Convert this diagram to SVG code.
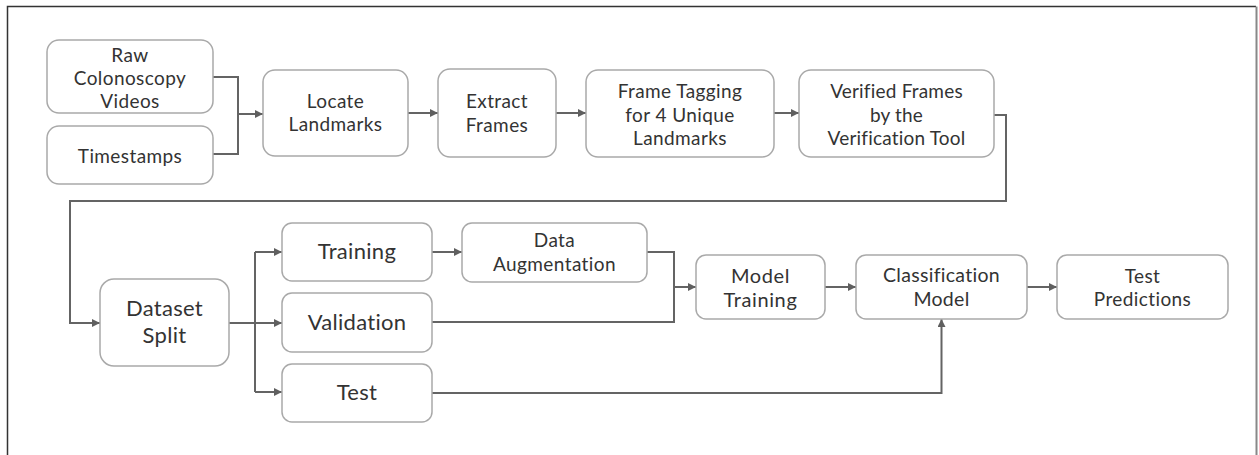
<svg xmlns="http://www.w3.org/2000/svg" width="1259" height="455" viewBox="0 0 1259 455">
  <defs>
    <marker id="arrow" viewBox="0 0 10 10" refX="10" refY="5" markerWidth="10" markerHeight="8" markerUnits="userSpaceOnUse" orient="auto">
      <path d="M0,0 L10,5 L0,10 z" fill="#5f5f5f"/>
    </marker>
  </defs>
  <style>
    .box { fill: #ffffff; stroke: #a9a9a9; stroke-width: 1.5; }
    .t { font-family: Lato, "Liberation Sans", sans-serif; fill: #333333; text-anchor: middle; font-size: 19px; letter-spacing: 0.4px; }
    .vf { letter-spacing: 0.2px; }
    .big { font-size: 22px; letter-spacing: 0.3px; }
    .mid { font-size: 20px; letter-spacing: 0.6px; }
    .cls { font-size: 19.5px; letter-spacing: 0.3px; }
    .wire { fill: none; stroke: #646464; stroke-width: 2; }
    .arr { marker-end: url(#arrow); }
  </style>

  <rect x="0" y="0" width="1259" height="455" fill="#ffffff"/>

  <!-- frame -->
  <path d="M7.5,460 V6.5 H1256" fill="none" stroke="#333333" stroke-width="1.5"/>
  <path d="M1256.5,6.5 V460" fill="none" stroke="#888888" stroke-width="2"/>

  <!-- connectors -->
  <g id="connectors">
    <path class="wire" d="M213,77 H238 V154 H213"/>
    <path class="wire arr" d="M238,114 H263"/>
    <path class="wire arr" d="M408,113 H438"/>
    <path class="wire arr" d="M556,113 H586"/>
    <path class="wire arr" d="M774,113 H799"/>
    <path class="wire arr" d="M994,115 H1006 V201 H70 V323 H100"/>
    <path class="wire" d="M229,323 H255"/>
    <path class="wire arr" d="M255,252 H282"/>
    <path class="wire arr" d="M255,323 H282"/>
    <path class="wire arr" d="M255,392 H282"/>
    <path class="wire" d="M255,252 V392"/>
    <path class="wire arr" d="M432,252 H462"/>
    <path class="wire" d="M647,252 H674 V322 H432"/>
    <path class="wire arr" d="M674,287 H696"/>
    <path class="wire arr" d="M825,287 H856"/>
    <path class="wire arr" d="M432,393 H941.5 V319"/>
    <path class="wire arr" d="M1027,287 H1057"/>
  </g>

  <!-- nodes -->
  <g id="raw-videos">
    <rect class="box" x="47" y="40" width="166" height="73" rx="12"/>
    <text class="t" x="130" y="62">Raw</text>
    <text class="t" x="130" y="85">Colonoscopy</text>
    <text class="t" x="130" y="108">Videos</text>
  </g>
  <g id="timestamps">
    <rect class="box" x="47" y="126" width="166" height="58" rx="12"/>
    <text class="t" x="130" y="163">Timestamps</text>
  </g>
  <g id="locate-landmarks">
    <rect class="box" x="263" y="70" width="145" height="86" rx="12"/>
    <text class="t" x="335.5" y="108">Locate</text>
    <text class="t" x="335.5" y="131">Landmarks</text>
  </g>
  <g id="extract-frames">
    <rect class="box" x="438" y="69" width="118" height="88" rx="12"/>
    <text class="t" x="497" y="108">Extract</text>
    <text class="t" x="497" y="132">Frames</text>
  </g>
  <g id="frame-tagging">
    <rect class="box" x="586" y="70" width="188" height="87" rx="12"/>
    <text class="t" x="680" y="98">Frame Tagging</text>
    <text class="t" x="680" y="122">for 4 Unique</text>
    <text class="t" x="680" y="145">Landmarks</text>
  </g>
  <g id="verified-frames">
    <rect class="box" x="799" y="70" width="195" height="87" rx="12"/>
    <text class="t vf" x="896.5" y="98">Verified Frames</text>
    <text class="t vf" x="896.5" y="122">by the</text>
    <text class="t vf" x="896.5" y="145">Verification Tool</text>
  </g>
  <g id="dataset-split">
    <rect class="box" x="100" y="279" width="129" height="87" rx="14"/>
    <text class="t big" x="164.5" y="316">Dataset</text>
    <text class="t big" x="164.5" y="343">Split</text>
  </g>
  <g id="training">
    <rect class="box" x="282" y="223" width="150" height="58" rx="10"/>
    <text class="t big" x="357" y="259">Training</text>
  </g>
  <g id="validation">
    <rect class="box" x="282" y="293" width="150" height="59" rx="10"/>
    <text class="t big" x="357" y="330">Validation</text>
  </g>
  <g id="test">
    <rect class="box" x="282" y="364" width="150" height="58" rx="10"/>
    <text class="t big" x="357" y="400">Test</text>
  </g>
  <g id="data-augmentation">
    <rect class="box" x="462" y="223" width="185" height="59" rx="10"/>
    <text class="t" x="554.5" y="247">Data</text>
    <text class="t" x="554.5" y="271">Augmentation</text>
  </g>
  <g id="model-training">
    <rect class="box" x="696" y="255" width="129" height="64" rx="10"/>
    <text class="t mid" x="760.5" y="283">Model</text>
    <text class="t mid" x="760.5" y="307">Training</text>
  </g>
  <g id="classification-model">
    <rect class="box" x="856" y="255" width="171" height="64" rx="10"/>
    <text class="t cls" x="941.5" y="282">Classification</text>
    <text class="t cls" x="941.5" y="306">Model</text>
  </g>
  <g id="test-predictions">
    <rect class="box" x="1057" y="255" width="171" height="64" rx="10"/>
    <text class="t" x="1142.5" y="283">Test</text>
    <text class="t" x="1142.5" y="306">Predictions</text>
  </g>
</svg>
